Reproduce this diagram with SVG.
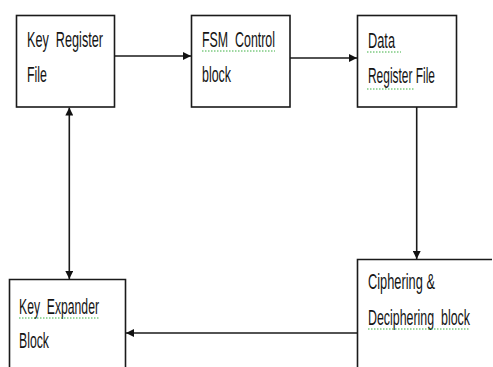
<svg xmlns="http://www.w3.org/2000/svg" width="493" height="367" viewBox="0 0 493 367">
<defs>
<style>
.box{fill:#fff;stroke:#1a1a1a;stroke-width:1.6}
.ln{fill:none;stroke:#1a1a1a;stroke-width:1.6}
.t{font-family:"Liberation Sans",Arial,sans-serif;font-size:21.5px;fill:#151515;white-space:pre}
.sq{fill:none;stroke:#3cb043;stroke-width:1;stroke-dasharray:1.5 1.5}
</style>
<marker id="ah" viewBox="0 0 10 10" refX="10" refY="5" markerWidth="8" markerHeight="8" markerUnits="userSpaceOnUse" orient="auto-start-reverse">
<path d="M0,0 L10,5 L0,10 z" fill="#111"/>
</marker>
</defs>
<rect width="493" height="367" fill="#fff"/>
<g id="key-register-file">
<rect class="box" x="16.5" y="15.5" width="98" height="91.5"/>
<text class="t" x="27" y="47" textLength="76" lengthAdjust="spacingAndGlyphs">Key  Register</text>
<text class="t" x="27" y="82" textLength="20" lengthAdjust="spacingAndGlyphs">File</text>
</g>
<g id="fsm-control-block">
<rect class="box" x="191.5" y="15.5" width="98.5" height="91.5"/>
<text class="t" x="202" y="47" textLength="73" lengthAdjust="spacingAndGlyphs">FSM  Control</text>
<path class="sq" d="M202,51 H275"/>
<text class="t" x="202" y="82" textLength="29" lengthAdjust="spacingAndGlyphs">block</text>
</g>
<g id="data-register-file">
<rect class="box" x="357.5" y="15.5" width="99" height="91.5"/>
<text class="t" x="368" y="48" textLength="27" lengthAdjust="spacingAndGlyphs">Data</text>
<path class="sq" d="M367,52 H401"/>
<text class="t" x="368" y="83" textLength="67" lengthAdjust="spacingAndGlyphs">Register File</text>
<path class="sq" d="M367,89 H415"/>
</g>
<g id="ciphering-block">
<path class="box" d="M492,259.5 H357.5 V368"/>
<text class="t" x="368" y="289" textLength="67" lengthAdjust="spacingAndGlyphs">Ciphering &amp;</text>
<text class="t" x="368" y="325" textLength="102" lengthAdjust="spacingAndGlyphs">Deciphering  block</text>
<path class="sq" d="M368,329 H470"/>
</g>
<g id="key-expander-block">
<path class="box" d="M9.5,368 V279.5 H125.5 V368"/>
<text class="t" x="19" y="314" textLength="80" lengthAdjust="spacingAndGlyphs">Key  Expander</text>
<path class="sq" d="M19,318 H99"/>
<text class="t" x="19" y="348" textLength="30" lengthAdjust="spacingAndGlyphs">Block</text>
</g>
<g id="connectors">
<path class="ln" d="M114.5,56 H191" marker-end="url(#ah)"/>
<path class="ln" d="M290,58 H357" marker-end="url(#ah)"/>
<path class="ln" d="M416.7,107 V259" marker-end="url(#ah)"/>
<path class="ln" d="M357,333 H126" marker-end="url(#ah)"/>
<path class="ln" d="M69.3,107.5 V279" marker-start="url(#ah)" marker-end="url(#ah)"/>
</g>
</svg>
